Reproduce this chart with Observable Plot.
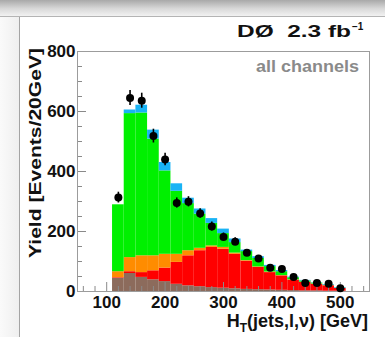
<!DOCTYPE html>
<html><head><meta charset="utf-8">
<script src="https://cdn.jsdelivr.net/npm/d3@7"></script>
<script src="https://cdn.jsdelivr.net/npm/@observablehq/plot@0.6"></script>
<style>
html,body{margin:0;padding:0;background:#fff;}
#wrap{position:relative;width:385px;height:337px;overflow:hidden;background:#fff;}
#topband{position:absolute;left:0;top:0;width:385px;height:16px;background:linear-gradient(#a9a9a9,#d9d9d9 55%,#f2f2f2);}
#topline{position:absolute;left:0;top:16px;width:385px;height:1px;background:#b4b4b4;}
#leftstrip{position:absolute;left:0;top:17px;width:19px;height:320px;background:linear-gradient(90deg,#fafafa,#efefef);}
#leftline{position:absolute;left:19px;top:17px;width:1px;height:320px;background:#a4a4a4;}
#chart{position:absolute;left:0;top:0;}
</style></head>
<body>
<div id="wrap"><div id="topband"></div><div id="topline"></div><div id="leftstrip"></div><div id="leftline"></div><div id="chart"></div></div>
<script>
// Bin centers (GeV), 20 GeV bins
const binCenters = [120,140,160,180,200,220,240,260,280,300,320,340,360,380,400,420,440,460,480,500];
const binWidth = 20;

// Stacked components (bottom to top), events per bin
const multijets = [44,60,47,39,33,24,19,16,13,11,9,7,6,5,4,3,2,2,1,1];
const ttbar     = [2,6,16,30,45,73,100,120,134,130,115,94,74,58,48,35,28,22,18,9];
const zjetsVV   = [20,47,56,50,46,27,17,8,5,6,4,2,2,2,1,1,1,1,1,0];
const wjets     = [223,480,476,389,278,210,157,114,75,46,35,30,28,18,13,7,4,3,1,1];
const singleTop = [0,12,26,30,28,25,18,17,16,15,12,5,6,4,4,2,2,1,2,2];

// Data points and their errors
const dataYield = [313,645,636,518,440,295,299,260,217,182,166,129,110,79,75,48,28,28,26,11];
const dataErr   = [18,25,25,23,21,17,17,16,15,13,13,11,10,9,9,7,5,5,5,3];

// Axis ticks
const xMajor = [100,200,300,400,500];
const xMinor = [60,80,120,140,160,180,220,240,260,280,320,340,360,380,420,440,460,480,520,540];
const yMajor = [0,200,400,600,800];
const yMinor = [50,100,150,250,300,350,450,500,550,650,700,750];

const compNames = ["Multijets","ttbar","Z+jets/VV","W+jets","tb+tqb"];
const compValues = [multijets, ttbar, zjetsVV, wjets, singleTop];
const compColors = ["#8c6b5c","#ff0000","#ff8c00","#00f000","#19b3f5"];

const stackRows = [];
compNames.forEach((name, k) => {
  binCenters.forEach((c, i) => {
    stackRows.push({comp: name, x1: c - binWidth/2, x2: c + binWidth/2, value: compValues[k][i]});
  });
});
const points = binCenters.map((c, i) => ({x: c, y: dataYield[i], lo: dataYield[i] - dataErr[i], hi: dataYield[i] + dataErr[i]}));

const FW = 292, FH = 240;
const plot = Plot.plot({
  width: 385, height: 337,
  marginLeft: 77, marginRight: 16, marginTop: 51, marginBottom: 46,
  style: {background: "transparent", fontFamily: "'Liberation Sans', Arial, sans-serif", fontWeight: "bold", fontSize: "17px", color: "#000", overflow: "visible"},
  x: {domain: [50, 550]},
  y: {domain: [0, 800]},
  color: {domain: compNames, range: compColors},
  marks: [
    Plot.rectY(stackRows, {x1: "x1", x2: "x2", y: "value", fill: "comp", order: compNames}),
    Plot.tickY(yMinor, {y: d => d, insetRight: FW - 5, stroke: "#8a8a8a"}),
    Plot.tickY(yMajor, {y: d => d, insetRight: FW - 9, stroke: "#8a8a8a"}),
    Plot.tickX(xMinor, {x: d => d, insetTop: FH - 5, stroke: "#8a8a8a"}),
    Plot.tickX(xMajor, {x: d => d, insetTop: FH - 9, stroke: "#8a8a8a"}),
    Plot.frame({stroke: "#9c9c9c"}),
    Plot.axisY({ticks: yMajor, tickSize: 0, tickPadding: 2, tickFormat: d => String(d), label: null, fill: "#111"}),
    Plot.axisX({ticks: xMajor, tickSize: 0, tickPadding: 4, tickFormat: d => String(d), label: null, fill: "#111"}),
    Plot.ruleX(points, {x: "x", y1: "lo", y2: "hi", stroke: "#000", strokeWidth: 1.6}),
    Plot.dot(points, {x: "x", y: "y", r: 4, fill: "#000", stroke: "none"})
  ]
});
document.getElementById("chart").appendChild(plot);

const svg = d3.select(plot);
const ff = "'Liberation Sans', Arial, sans-serif";
svg.append("text").attr("x", 237).attr("y", 37).attr("text-anchor", "start").attr("font-size", 17).attr("font-weight", "bold")
  .attr("font-family", ff).attr("fill", "#111").attr("textLength", 114).attr("lengthAdjust", "spacingAndGlyphs")
  .text("DØ\u00a0\u00a02.3\u00a0fb");
svg.append("text").attr("x", 352).attr("y", 30).attr("text-anchor", "start").attr("font-size", 10).attr("font-weight", "bold")
  .attr("font-family", ff).attr("fill", "#111").text("−1");
svg.append("text").attr("x", 359).attr("y", 72).attr("text-anchor", "end").attr("font-size", 16).attr("font-weight", "bold")
  .attr("font-family", ff).attr("fill", "#8a8a8a").attr("textLength", 103).attr("lengthAdjust", "spacingAndGlyphs")
  .text("all channels");
const xt = svg.append("text").attr("x", 368).attr("y", 327).attr("text-anchor", "end").attr("font-size", 18)
  .attr("font-weight", "bold").attr("font-family", ff).attr("fill", "#111");
xt.append("tspan").text("H");
xt.append("tspan").attr("font-size", 12).attr("dy", 5).text("T");
xt.append("tspan").attr("dy", -5).text("(jets,l,ν) [GeV]");
svg.append("text").attr("transform", "translate(41,48) rotate(-90)").attr("text-anchor", "end")
  .attr("font-size", 17).attr("font-weight", "bold").attr("font-family", ff).attr("fill", "#111")
  .attr("textLength", 210).attr("lengthAdjust", "spacingAndGlyphs").text("Yield [Events/20GeV]");
</script>
</body></html>
